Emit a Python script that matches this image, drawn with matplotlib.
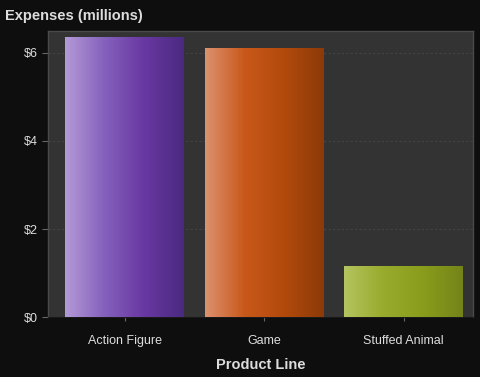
import numpy as np
import matplotlib.pyplot as plt
from matplotlib.colors import LinearSegmentedColormap

plt.rcParams["font.family"] = ["Liberation Sans", "DejaVu Sans"]

# Expenses per product line (millions of dollars)
products = ["Action Figure", "Game", "Stuffed Animal"]
expenses = [6.36, 6.11, 1.16]
yticks = [0, 2, 4, 6]
ytick_labels = ["$0", "$2", "$4", "$6"]

# left-to-right shading for each bar
shades = [
    ["#b39ad6", "#8560bc", "#6838a2", "#4a2a80"],
    ["#dc9270", "#c8581a", "#b24a0c", "#8c3a08"],
    ["#b4c460", "#98ab2c", "#8a9c1c", "#74841a"],
]

fig = plt.figure(figsize=(4.81, 3.77), dpi=100, facecolor="#0e0e0e")
ax = fig.add_axes([0.0998, 0.159, 0.884, 0.759])
ax.set_facecolor("#333333")

x = np.arange(len(products))
bars = ax.bar(x, expenses, width=0.85, color="none", edgecolor="none", zorder=3)

grad = np.linspace(0, 1, 256).reshape(1, -1)
for bar, cols in zip(bars, shades):
    cmap = LinearSegmentedColormap.from_list("shade", cols)
    x0, y0 = bar.get_x(), bar.get_y()
    w, h = bar.get_width(), bar.get_height()
    im = ax.imshow(grad, cmap=cmap, aspect="auto", extent=(x0, x0 + w, y0, y0 + h),
                   zorder=3, interpolation="bilinear")
    im.set_clip_path(bar)

ax.set_xlim(-0.55, 2.5)
ax.set_ylim(0, 6.5)
ax.set_xticks(x)
ax.set_xticklabels(products)
ax.set_yticks(yticks)
ax.set_yticklabels(ytick_labels)

ax.yaxis.grid(True, color="#444444", linestyle=(0, (2, 2)), linewidth=0.8, zorder=1)
ax.set_axisbelow(True)

for side in ["top", "right", "left"]:
    ax.spines[side].set_color("#4a4a4a")
    ax.spines[side].set_linewidth(1.0)
ax.spines["bottom"].set_color("#1a1a1a")

ax.tick_params(axis="both", colors="#666666", labelcolor="#dddddd", labelsize=9, length=4)
ax.tick_params(axis="x", length=3, pad=10)

ax.set_xlabel("Product Line", color="#dddddd", fontsize=10.5, fontweight="bold", labelpad=8)
fig.text(0.010, 0.958, "Expenses (millions)", color="#dddddd", fontsize=10.5,
         fontweight="bold", va="center", ha="left")

fig.savefig("out.png", dpi=100, facecolor=fig.get_facecolor())
